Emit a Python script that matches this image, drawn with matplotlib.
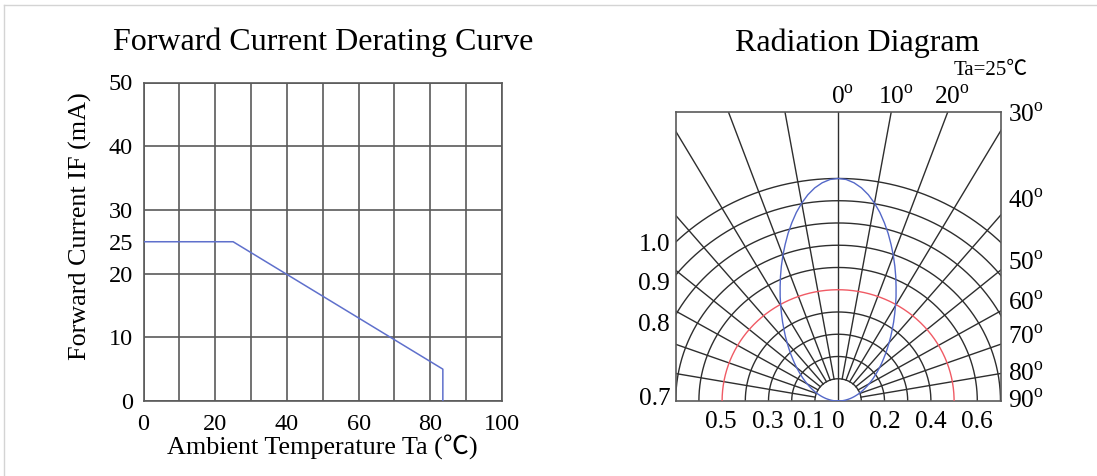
import numpy as np
import matplotlib
matplotlib.use('Agg')
import matplotlib.pyplot as plt
from matplotlib.lines import Line2D

plt.rcParams['font.family'] = ['Liberation Serif', 'Noto Sans CJK JP', 'DejaVu Sans']
plt.rcParams['mathtext.fontset'] = 'custom'
plt.rcParams['mathtext.rm'] = 'Liberation Serif'

# ---------------- data ----------------
derate_temp = [0, 25, 83.5, 83.5]
derate_current = [25, 25, 5, 0]
x_ticks = [0, 20, 40, 60, 80, 100]
y_ticks = [0, 10, 20, 25, 30, 40, 50]
x_grid = [0, 10, 20, 30, 40, 50, 60, 70, 80, 90, 100]
y_grid = [0, 10, 20, 30, 40, 50]

# radiation pattern (right half, mirrored): angle in degrees, relative intensity
pattern_angle = [0, 2, 4, 6, 8, 10, 12, 14, 16, 18, 20, 22, 24, 26, 28, 30, 32, 34, 36, 38,
                 40, 42, 44, 46, 48, 50, 52, 54, 56, 58, 60, 62, 64, 66, 68, 70, 72, 74, 76,
                 78, 80, 82, 84, 86, 88, 90]
pattern_intensity = [1.000, 0.996, 0.983, 0.963, 0.936, 0.903, 0.866, 0.825, 0.783, 0.739,
                     0.696, 0.653, 0.611, 0.570, 0.532, 0.495, 0.460, 0.428, 0.397, 0.369,
                     0.342, 0.317, 0.294, 0.272, 0.252, 0.233, 0.215, 0.198, 0.183, 0.168,
                     0.154, 0.141, 0.128, 0.116, 0.105, 0.094, 0.083, 0.073, 0.063, 0.054,
                     0.044, 0.035, 0.026, 0.018, 0.009, 0.000]
half_intensity = 0.5
grid_angles = [-80, -70, -60, -50, -40, -30, -20, -10, 10, 20, 30, 40, 50, 60, 70, 80]
grid_intensity = [0.1, 0.2, 0.3, 0.4, 0.5, 0.6, 0.7, 0.8, 0.9, 1.0]
bottom_labels = ['0.5', '0.3', '0.1', '0', '0.2', '0.4', '0.6']
left_labels = ['1.0', '0.9', '0.8', '0.7']
top_angle_labels = [0, 10, 20]
right_angle_labels = [30, 40, 50, 60, 70, 80, 90]

# ---------------- layout ----------------
W, H = 1097, 476
fig = plt.figure(figsize=(W / 100, H / 100), dpi=100)

def fx(px):
    return px / W

def fy(py):
    return 1 - py / H

# light frame of the page
fig.add_artist(Line2D([fx(4), 1], [fy(5), fy(5)], color='#d4d4d4', lw=1.0))
fig.add_artist(Line2D([fx(4), fx(4)], [fy(5), 0], color='#d4d4d4', lw=1.0))

FS = 17.5
LFS = 18.8
TFS = 23
grid_col = '#5a5a5a'

# ---------------- left chart ----------------
ax1 = fig.add_axes([fx(143.5), fy(401), fx(502 - 143.5), (401 - 82.5) / H])
ax1.set_xlim(0, 100)
ax1.set_ylim(0, 50)
for v in x_grid:
    ax1.axvline(v, color=grid_col, lw=1.2, zorder=1)
for v in y_grid:
    ax1.axhline(v, color=grid_col, lw=1.2, zorder=1)
ax1.set_xticks(x_ticks)
ax1.set_yticks(y_ticks)
ax1.set_xticklabels([str(v) for v in x_ticks])
ax1.set_yticklabels([str(v) for v in y_ticks])
ax1.tick_params(axis='both', length=0, labelsize=FS)
ax1.tick_params(axis='x', pad=9)
ax1.tick_params(axis='y', pad=7.5)
for s in ax1.spines.values():
    s.set_color(grid_col)
    s.set_linewidth(1.2)
ax1.plot(derate_temp, derate_current, color='#5f70cc', lw=1.1, zorder=3)
ax1.set_title('Forward Current Derating Curve', fontsize=TFS, pad=23.5)
ax1.set_xlabel('Ambient Temperature Ta (℃)', fontsize=LFS)
ax1.set_ylabel('Forward Current IF (mA)', fontsize=LFS)
ax1.xaxis.set_label_coords(0.5, -0.108)
ax1.yaxis.set_label_coords(-0.145, 0.55)

# ---------------- radiation diagram ----------------
ax2 = fig.add_axes([fx(675.7), fy(401), fx(1000.5 - 675.7), (401 - 111.7) / H])
ax2.set_xlim(-7, 7)
ax2.set_ylim(0, 13)
ax2.set_xticks([])
ax2.set_yticks([])
for s in ax2.spines.values():
    s.set_color(grid_col)
    s.set_linewidth(1.2)

line_col = '#2e2e2e'
R = 10.0
t = np.linspace(-np.pi / 2, np.pi / 2, 400)
for g in grid_intensity:
    is_half = abs(g - half_intensity) < 1e-9
    ax2.plot(R * g * np.sin(t), R * g * np.cos(t),
             color='#f05a64' if is_half else line_col, lw=1.0, zorder=3 if is_half else 2)
for a in grid_angles:
    th = np.radians(a)
    ax2.plot([R * 0.1 * np.sin(th), 30 * np.sin(th)], [R * 0.1 * np.cos(th), 30 * np.cos(th)],
             color=line_col, lw=1.0, zorder=2)
ax2.plot([0, 0], [0, 13], color=line_col, lw=1.0, zorder=2)

ang = np.array(pattern_angle, dtype=float)
inten = np.array(pattern_intensity)
full_ang = np.radians(np.concatenate([-ang[::-1], ang[1:]]))
full_int = np.concatenate([inten[::-1], inten[1:]])
ax2.plot(R * full_int * np.sin(full_ang), R * full_int * np.cos(full_ang),
         color='#5468c8', lw=1.0, zorder=4)

ax2.set_title('Radiation Diagram', fontsize=TFS, pad=44, x=0.558)
ax2.text(0.971, (401 - 75) / 289.3, 'Ta=25℃', transform=ax2.transAxes, fontsize=15,
         ha='center', va='baseline')

deg = r'$^{\mathrm{o}}$'
bottom_x = [-5.05, -3.05, -1.25, 0, 2.0, 4.0, 6.0]
for lab, xv in zip(bottom_labels, bottom_x):
    ax2.annotate(lab, (xv, 0), xytext=(0, -19.5), textcoords='offset points',
                 ha='center', va='baseline', fontsize=FS + 0.8)
left_y = [7.0, 5.25, 3.42, 0.11]
for lab, yv in zip(left_labels, left_y):
    ax2.annotate(lab, (-7, yv), xytext=(-4, 0), textcoords='offset points',
                 ha='right', va='center', fontsize=FS + 0.8)
for a in top_angle_labels:
    xv = 13 * np.tan(np.radians(a))
    ax2.annotate(f'{a}' + deg, (xv, 13), xytext=(3, 1.5), textcoords='offset points',
                 ha='center', va='bottom', fontsize=FS + 0.8)
right_y = [12.83, 8.94, 6.18, 4.36, 2.83, 1.17, -0.02]
for a, yv in zip(right_angle_labels, right_y):
    ax2.annotate(f'{a}' + deg, (7, yv), xytext=(5.5, 0), textcoords='offset points',
                 ha='left', va='center', fontsize=FS + 0.8)

fig.savefig('out.png', dpi=100)
